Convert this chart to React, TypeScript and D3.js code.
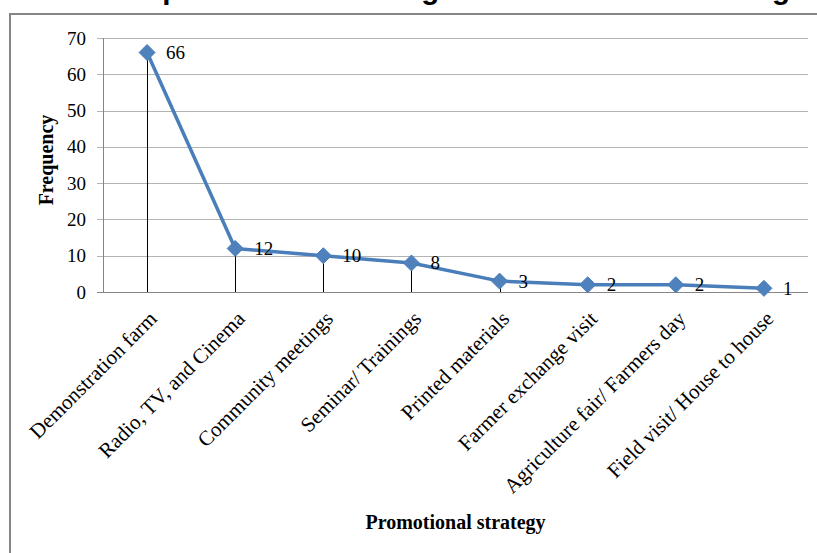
import React from "react";
import * as d3 from "d3";

// Promotional strategies and how many respondents named each one
const categories = [
  "Demonstration farm",
  "Radio, TV, and Cinema",
  "Community meetings",
  "Seminar/ Trainings",
  "Printed materials",
  "Farmer exchange visit",
  "Agriculture fair/ Farmers day",
  "Field visit/ House to house",
];
const frequency = [66, 12, 10, 8, 3, 2, 2, 1];
const yTicks = [0, 10, 20, 30, 40, 50, 60, 70];

const titleText = "The most effective promotional strategies used for local scaling";
const yTitle = "Frequency";
const xTitle = "Promotional strategy";

const W = 817;
const H = 553;
const plot = { left: 103, right: 808, top: 38, bottom: 292 };

const serif = "'Liberation Serif', 'Times New Roman', Times, serif";
const sans = "'Liberation Sans', Arial, Helvetica, sans-serif";
const lineBlue = "#4A7EBB";
const markerBlue = "#4F81BD";

export default function App() {
  const x = d3
    .scaleBand<string>()
    .domain(categories)
    .range([plot.left, plot.right])
    .paddingInner(0)
    .paddingOuter(0);
  const cx = (c: string) => (x(c) as number) + x.bandwidth() / 2;

  const y = d3.scaleLinear().domain([0, 70]).range([plot.bottom, plot.top]);

  const points = categories.map((c, i) => ({ c, v: frequency[i], px: cx(c), py: y(frequency[i]) }));
  const linePath = d3
    .line<{ px: number; py: number }>()
    .x((d) => d.px)
    .y((d) => d.py)(points) as string;

  const diamond = (px: number, py: number, r: number) =>
    `M${px},${py - r}L${px + r},${py}L${px},${py + r}L${px - r},${py}Z`;

  return (
    <div style={{ position: "absolute", left: 0, top: 0 }}>
      <svg width={W} height={H} style={{ display: "block", background: "#fff" }}>
        {/* chart title, cut by the top edge */}
        <text
          x={790}
          y={-1}
          textAnchor="end"
          fontFamily={sans}
          fontWeight="bold"
          fontSize={29.5}
          fill="#000"
        >
          {titleText}
        </text>

        {/* chart frame */}
        <rect x={10} y={14} width={W + 20} height={H + 20} fill="#fff" stroke="#868686" strokeWidth={2} />

        {/* gridlines and value ticks */}
        {yTicks.map((t) => (
          <g key={t}>
            <line
              x1={plot.left - 6}
              x2={plot.right}
              y1={Math.round(y(t)) + 0.5}
              y2={Math.round(y(t)) + 0.5}
              stroke={t === 0 ? "#868686" : "#b3b3b3"}
              strokeWidth={1}
            />
            <text
              x={86}
              y={y(t)}
              textAnchor="end"
              dominantBaseline="central"
              fontFamily={serif}
              fontSize={19}
              fill="#000"
            >
              {t}
            </text>
          </g>
        ))}

        {/* value axis */}
        <line
          x1={plot.left + 0.5}
          x2={plot.left + 0.5}
          y1={plot.top}
          y2={plot.bottom}
          stroke="#868686"
          strokeWidth={1}
        />

        {/* drop lines from each point to the category axis */}
        {points.map((p) => (
          <line
            key={"drop" + p.c}
            x1={Math.round(p.px) + 0.5}
            x2={Math.round(p.px) + 0.5}
            y1={p.py}
            y2={plot.bottom}
            stroke="#000"
            strokeWidth={1}
          />
        ))}

        {/* series line and markers */}
        <path d={linePath} fill="none" stroke={lineBlue} strokeWidth={3.5} strokeLinejoin="round" />
        {points.map((p) => (
          <path key={"m" + p.c} d={diamond(p.px, p.py, 8)} fill={markerBlue} stroke={lineBlue} strokeWidth={1} />
        ))}

        {/* data labels */}
        {points.map((p) => (
          <text
            key={"lbl" + p.c}
            x={p.px + 19}
            y={p.py}
            dominantBaseline="central"
            fontFamily={serif}
            fontSize={19}
            fill="#000"
          >
            {p.v}
          </text>
        ))}

        {/* category labels */}
        {categories.map((c) => (
          <text
            key={"cat" + c}
            transform={`translate(${cx(c) + 11},${320}) rotate(-45)`}
            textAnchor="end"
            fontFamily={serif}
            fontSize={21}
            fill="#000"
          >
            {c}
          </text>
        ))}

        {/* axis titles */}
        <text
          transform={`translate(53,160) rotate(-90)`}
          textAnchor="middle"
          fontFamily={serif}
          fontWeight="bold"
          fontSize={20}
          fill="#000"
        >
          {yTitle}
        </text>
        <text
          x={(plot.left + plot.right) / 2}
          y={529}
          textAnchor="middle"
          fontFamily={serif}
          fontWeight="bold"
          fontSize={20}
          fill="#000"
        >
          {xTitle}
        </text>
      </svg>
    </div>
  );
}
